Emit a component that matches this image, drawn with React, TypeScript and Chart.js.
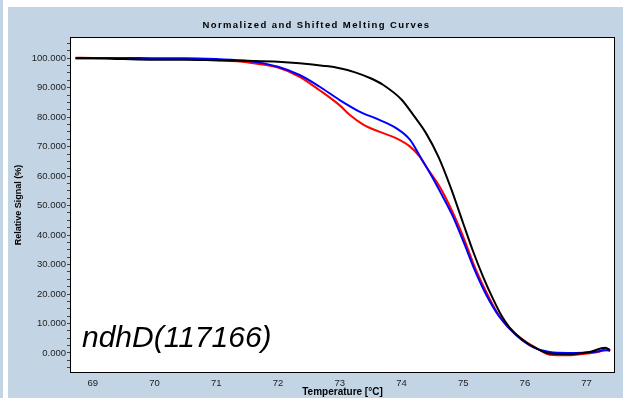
import React, { useEffect, useRef } from 'react';
import { Chart, registerables } from 'chart.js';

Chart.register(...registerables);

const CHART_TITLE = 'Normalized and Shifted Melting Curves';
const X_TITLE = 'Temperature [°C]';
const Y_TITLE = 'Relative Signal (%)';
const SAMPLE_LABEL = 'ndhD(117166)';

const xTickValues = [69, 70, 71, 72, 73, 74, 75, 76, 77];
const yMajorStep = 10;
const yMinorStep = 2.5;
const xMin = 68.63;
const xMax = 77.46;
const yMin = -6.8;
const yMax = 107.2;

const blackTemp = [68.72, 69.0, 69.5, 70.0, 70.5, 71.0, 71.5, 72.0, 72.35, 72.75, 73.0, 73.25, 73.5, 73.7, 74.0, 74.2, 74.4, 74.6, 74.8, 75.0, 75.16, 75.32, 75.48, 75.62, 75.75, 75.97, 76.19, 76.4, 76.73, 77.05, 77.3, 77.38];
const blackSignal = [100, 100, 99.7, 99.5, 99.5, 99.3, 99.1, 98.8, 98.3, 97.4, 96.6, 95.2, 93.2, 91.0, 86.0, 80.5, 74.5, 66.5, 56.0, 44.0, 34.5, 26.0, 18.5, 12.7, 8.7, 4.3, 1.5, -0.2, -0.4, 0.3, 1.8, 1.0];

const blueTemp = [68.72, 69.0, 69.5, 70.0, 70.5, 71.0, 71.5, 72.0, 72.35, 72.67, 73.0, 73.32, 73.65, 73.92, 74.14, 74.32, 74.45, 74.62, 74.83, 75.0, 75.2, 75.38, 75.59, 75.86, 76.13, 76.4, 76.7, 76.94, 77.15, 77.32, 77.38];
const blueSignal = [100, 100, 100.1, 100, 100, 99.7, 99.1, 97.1, 94.3, 90.4, 85.8, 81.9, 79.0, 76.2, 72.3, 66.0, 61.5, 55.0, 46.5, 38.0, 27.5, 19.5, 12.2, 6.0, 2.0, 0.3, 0.0, 0.1, 0.4, 0.9, 0.8];

const redTemp = [68.72, 69.0, 69.5, 70.0, 70.5, 71.0, 71.5, 72.0, 72.35, 72.67, 73.0, 73.16, 73.38, 73.65, 73.92, 74.14, 74.3, 74.4, 74.62, 74.83, 75.0, 75.2, 75.43, 75.59, 75.75, 76.0, 76.2, 76.4, 76.7, 77.0, 77.2, 77.32, 77.38];
const redSignal = [100.2, 100.1, 99.9, 99.7, 99.7, 99.3, 98.6, 96.8, 93.7, 89.2, 84.0, 80.8, 77.5, 75.0, 72.8, 70.0, 66.5, 63.2, 56.4, 47.8, 39.5, 28.5, 18.3, 12.4, 8.3, 4.0, 1.5, -0.6, -0.8, -0.2, 0.4, 1.6, 0.6];

const PANEL = '#c3d5e5';
const FONT = '"Liberation Sans", Arial, sans-serif';

const toPoints = (xs: number[], ys: number[]) => xs.map((x, i) => ({ x, y: ys[i] }));

const isMajor = (v: number) => Math.abs(v / yMajorStep - Math.round(v / yMajorStep)) < 1e-6;

const decorPlugin = {
  id: 'decor',
  beforeDraw(chart: any) {
    const { ctx, chartArea: a, width, height } = chart;
    ctx.save();
    ctx.fillStyle = '#ffffff';
    ctx.fillRect(0, 0, width, height);
    ctx.fillStyle = PANEL;
    ctx.fillRect(0, 0, 3, height);
    ctx.fillRect(8, 7, width - 8, height - 7);
    ctx.fillStyle = '#ffffff';
    ctx.fillRect(a.left, a.top, a.right - a.left, a.bottom - a.top);
    ctx.fillStyle = '#000';
    ctx.font = `bold 9.5px ${FONT}`;
    try { (ctx as any).letterSpacing = '1.4px'; } catch (e) {}
    ctx.textAlign = 'center';
    ctx.textBaseline = 'middle';
    ctx.fillText(CHART_TITLE, (8 + width) / 2 + 1, 25);
    ctx.restore();
  },
  afterDraw(chart: any) {
    const { ctx, chartArea: a } = chart;
    ctx.save();
    ctx.strokeStyle = '#000';
    ctx.lineWidth = 1;
    ctx.strokeRect(a.left + 0.5, a.top + 0.5, a.right - a.left - 1, a.bottom - a.top - 1);
    ctx.fillStyle = '#000';
    ctx.font = `italic 30px ${FONT}`;
    ctx.textAlign = 'left';
    ctx.textBaseline = 'alphabetic';
    ctx.fillText(SAMPLE_LABEL, a.left + 12, a.bottom - 26);
    ctx.restore();
  },
};

export default function App() {
  const canvasRef = useRef<HTMLCanvasElement | null>(null);

  useEffect(() => {
    if (!canvasRef.current) return;
    const chart = new Chart(canvasRef.current, {
      type: 'line',
      data: {
        datasets: [
          { label: 'black', data: toPoints(blackTemp, blackSignal), borderColor: '#000000', borderWidth: 2, pointRadius: 0, cubicInterpolationMode: 'monotone', fill: false },
          { label: 'blue', data: toPoints(blueTemp, blueSignal), borderColor: '#0000ff', borderWidth: 2, pointRadius: 0, cubicInterpolationMode: 'monotone', fill: false },
          { label: 'red', data: toPoints(redTemp, redSignal), borderColor: '#ff0000', borderWidth: 2, pointRadius: 0, cubicInterpolationMode: 'monotone', fill: false },
        ],
      },
      options: {
        animation: false,
        responsive: false,
        maintainAspectRatio: false,
        layout: { padding: { left: 8, right: 8, top: 37, bottom: 0 } },
        plugins: {
          legend: { display: false },
          title: { display: false },
          tooltip: { enabled: false },
        },
        scales: {
          x: {
            type: 'linear',
            min: xMin,
            max: xMax,
            afterBuildTicks: (scale: any) => {
              scale.ticks = xTickValues.map((v) => ({ value: v }));
            },
            afterFit: (scale: any) => {
              scale.height = 25;
            },
            grid: { display: false },
            border: { display: false },
            ticks: {
              autoSkip: false,
              maxRotation: 0,
              padding: -3,
              color: '#222',
              font: { family: FONT, size: 9.5 },
              callback: (v: any) => String(v),
            },
            title: {
              display: true,
              text: X_TITLE,
              color: '#000',
              font: { family: FONT, size: 10, weight: 'bold' },
              padding: { top: 0, bottom: 0 },
            },
          },
          y: {
            type: 'linear',
            min: yMin,
            max: yMax,
            afterBuildTicks: (scale: any) => {
              const t: any[] = [];
              for (let v = -5; v <= 105 + 1e-6; v += yMinorStep) t.push({ value: v });
              scale.ticks = t;
            },
            afterFit: (scale: any) => {
              scale.width = 62;
            },
            grid: { display: true, drawOnChartArea: false, drawTicks: true, tickLength: 3, color: '#444', tickColor: '#444' },
            border: { display: false },
            ticks: {
              autoSkip: false,
              padding: 1,
              color: '#222',
              font: { family: FONT, size: 9.5 },
              callback: (v: any) => (isMajor(Number(v)) ? Number(v).toFixed(3) : ''),
            },
            title: {
              display: true,
              text: Y_TITLE,
              color: '#000',
              font: { family: FONT, size: 9, weight: 'bold' },
              padding: { top: 5, bottom: 0 },
            },
          },
        },
      } as any,
      plugins: [decorPlugin],
    });
    return () => chart.destroy();
  }, []);

  return (
    <div style={{ position: 'fixed', left: 0, top: 0, width: 623, height: 398 }}>
      <canvas ref={canvasRef} width={623} height={398} style={{ width: 623, height: 398, display: 'block' }} />
    </div>
  );
}
